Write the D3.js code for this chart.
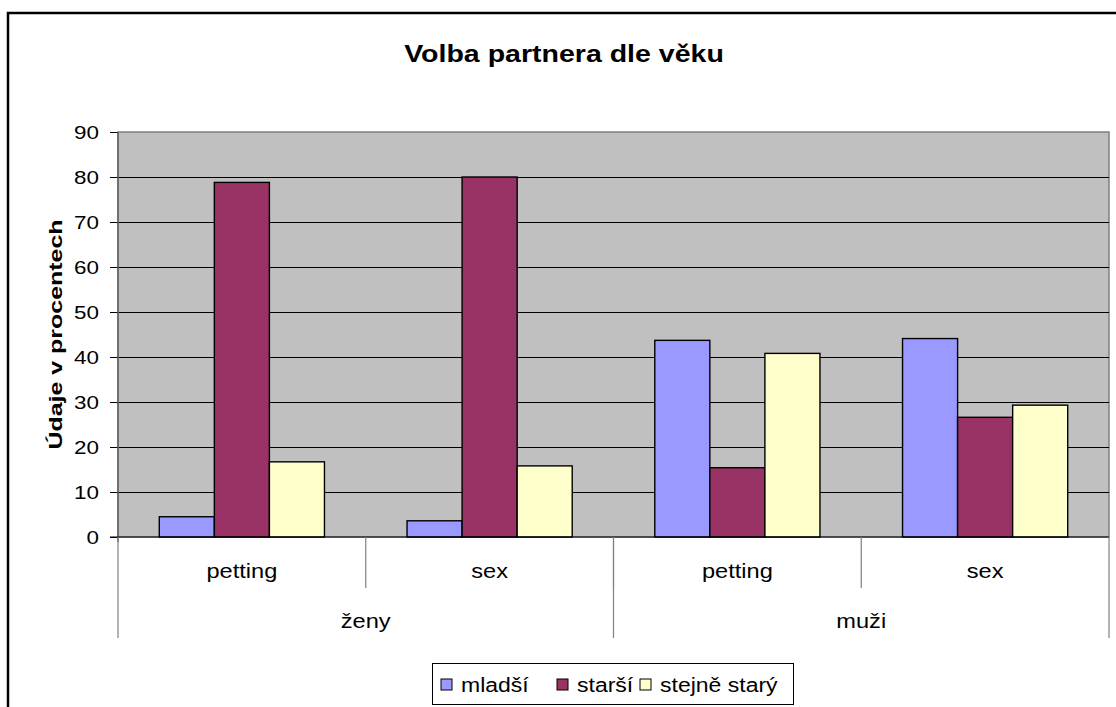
<!DOCTYPE html>
<html>
<head>
<meta charset="utf-8">
<script src="https://cdn.jsdelivr.net/npm/d3@7"></script>
<style>
  body { margin: 0; background: #fff; }
  svg { font-family: Arial, "Liberation Sans", sans-serif; display: block; }
</style>
</head>
<body>
<div id="chart"></div>
<script>
// data
const groups = ["ženy", "muži"];
const subCategories = ["petting", "sex"];
const seriesNames = ["mladší", "starší", "stejně starý"];
const mladsi = [4.5, 3.6, 43.7, 44.1];
const starsi = [78.8, 80.0, 15.4, 26.6];
const stejne = [16.7, 15.8, 40.8, 29.3];
const yTicks = [0, 10, 20, 30, 40, 50, 60, 70, 80, 90];
const seriesColors = ["#9999FF", "#993366", "#FFFFCC"];

const width = 1116, height = 707;
const plot = {left: 118, right: 1109, top: 132, bottom: 537};

const seriesValues = [mladsi, starsi, stejne];
const categories = [];
groups.forEach(function(g) {
  subCategories.forEach(function(s) { categories.push(g + "|" + s); });
});

// the original text is rendered a bit wider than Arial, so stretch it
function stretch(sel, f) {
  sel.each(function() {
    const w = this.getComputedTextLength();
    d3.select(this)
      .attr("textLength", w * f)
      .attr("lengthAdjust", "spacingAndGlyphs");
  });
}

const svg = d3.select("#chart").append("svg")
  .attr("width", width)
  .attr("height", height);

// outer chart border
svg.append("rect")
  .attr("x", 8).attr("y", 13)
  .attr("width", width + 20).attr("height", height + 20)
  .style("fill", "none")
  .style("stroke", "#000")
  .style("stroke-width", 2.5);

// title
svg.append("text")
  .attr("x", 564).attr("y", 62)
  .attr("text-anchor", "middle")
  .style("font-size", "23px")
  .style("font-weight", "bold")
  .text("Volba partnera dle věku")
  .call(stretch, 1.24);

const y = d3.scaleLinear()
  .domain([0, 90])
  .range([plot.bottom, plot.top]);

const x0 = d3.scaleBand()
  .domain(categories)
  .range([plot.left, plot.right])
  .padding(0);

const x1 = d3.scaleBand()
  .domain(seriesNames)
  .range([0, x0.bandwidth()])
  .paddingInner(0)
  .paddingOuter(0.75);

const xg = d3.scaleBand()
  .domain(groups)
  .range([plot.left, plot.right]);

// plot area
svg.append("rect")
  .attr("x", plot.left).attr("y", plot.top)
  .attr("width", plot.right - plot.left)
  .attr("height", plot.bottom - plot.top)
  .style("fill", "#C0C0C0")
  .style("stroke", "#808080")
  .style("stroke-width", 1.5);

// gridlines
svg.append("g")
  .selectAll("line")
  .data(yTicks.filter(function(d) { return d > 0 && d < 90; }))
  .enter().append("line")
  .attr("x1", plot.left).attr("x2", plot.right)
  .attr("y1", function(d) { return Math.round(y(d)) + 0.5; })
  .attr("y2", function(d) { return Math.round(y(d)) + 0.5; })
  .style("stroke", "#000")
  .style("stroke-width", 1);

// bars
const barData = [];
categories.forEach(function(c, i) {
  seriesNames.forEach(function(s, j) {
    barData.push({cat: c, series: s, value: seriesValues[j][i], idx: j});
  });
});

svg.append("g")
  .selectAll("rect")
  .data(barData)
  .enter().append("rect")
  .attr("x", function(d) { return x0(d.cat) + x1(d.series); })
  .attr("y", function(d) { return y(d.value); })
  .attr("width", x1.bandwidth())
  .attr("height", function(d) { return y(0) - y(d.value); })
  .style("fill", function(d) { return seriesColors[d.idx]; })
  .style("stroke", "#000")
  .style("stroke-width", 1.4);

// y axis
const yAxis = svg.append("g")
  .attr("transform", "translate(" + plot.left + ",0)")
  .call(d3.axisLeft(y).tickValues(yTicks).tickSize(8).tickPadding(11));
yAxis.select(".domain").remove();
yAxis.selectAll("line").style("stroke", "#000");
yAxis.selectAll("text")
  .style("font-size", "19px")
  .style("font-family", "Arial, 'Liberation Sans', sans-serif")
  .attr("fill", "#000")
  .call(stretch, 1.18);

svg.append("line")
  .attr("x1", plot.left).attr("x2", plot.left)
  .attr("y1", plot.top).attr("y2", plot.bottom + 5)
  .style("stroke", "#606060")
  .style("stroke-width", 1.5);

// x axis line
svg.append("line")
  .attr("x1", plot.left - 8).attr("x2", plot.right)
  .attr("y1", plot.bottom).attr("y2", plot.bottom)
  .style("stroke", "#000")
  .style("stroke-width", 1);

// inner category dividers
svg.append("g")
  .selectAll("line")
  .data(categories.slice(1))
  .enter().append("line")
  .attr("x1", function(d) { return x0(d); })
  .attr("x2", function(d) { return x0(d); })
  .attr("y1", plot.bottom).attr("y2", 588)
  .style("stroke", "#808080")
  .style("stroke-width", 1.2);

// group dividers
svg.append("g")
  .selectAll("line")
  .data(groups.concat(["end"]))
  .enter().append("line")
  .attr("x1", function(d) { return d === "end" ? plot.right : xg(d); })
  .attr("x2", function(d) { return d === "end" ? plot.right : xg(d); })
  .attr("y1", plot.bottom).attr("y2", 638)
  .style("stroke", "#808080")
  .style("stroke-width", 1.2);

// category labels
svg.append("g")
  .selectAll("text")
  .data(categories)
  .enter().append("text")
  .attr("x", function(d) { return x0(d) + x0.bandwidth() / 2; })
  .attr("y", 578)
  .attr("text-anchor", "middle")
  .style("font-size", "20px")
  .text(function(d) { return d.split("|")[1]; })
  .call(stretch, 1.18);

svg.append("g")
  .selectAll("text")
  .data(groups)
  .enter().append("text")
  .attr("x", function(d) { return xg(d) + xg.bandwidth() / 2; })
  .attr("y", 628)
  .attr("text-anchor", "middle")
  .style("font-size", "20px")
  .text(function(d) { return d; })
  .call(stretch, 1.18);

// y axis title
svg.append("text")
  .attr("transform", "translate(62," + ((plot.top + plot.bottom) / 2) + ") rotate(-90)")
  .attr("text-anchor", "middle")
  .style("font-size", "19px")
  .style("font-weight", "bold")
  .text("Údaje v procentech")
  .attr("textLength", 230)
  .attr("lengthAdjust", "spacingAndGlyphs");

// legend
const legend = svg.append("g");
legend.append("rect")
  .attr("x", 432.5).attr("y", 663.5)
  .attr("width", 361).attr("height", 41)
  .style("fill", "#fff")
  .style("stroke", "#000")
  .style("stroke-width", 1);

const legendX = [441, 557, 640];
const items = legend.selectAll(".item")
  .data(seriesNames)
  .enter().append("g")
  .attr("transform", function(d, i) { return "translate(" + legendX[i] + ",0)"; });

items.append("rect")
  .attr("x", 0).attr("y", 679)
  .attr("width", 11).attr("height", 11)
  .style("fill", function(d, i) { return seriesColors[i]; })
  .style("stroke", "#000")
  .style("stroke-width", 1);

items.append("text")
  .attr("x", 20).attr("y", 692)
  .style("font-size", "20px")
  .text(function(d) { return d; })
  .call(stretch, 1.15);
</script>
</body>
</html>
